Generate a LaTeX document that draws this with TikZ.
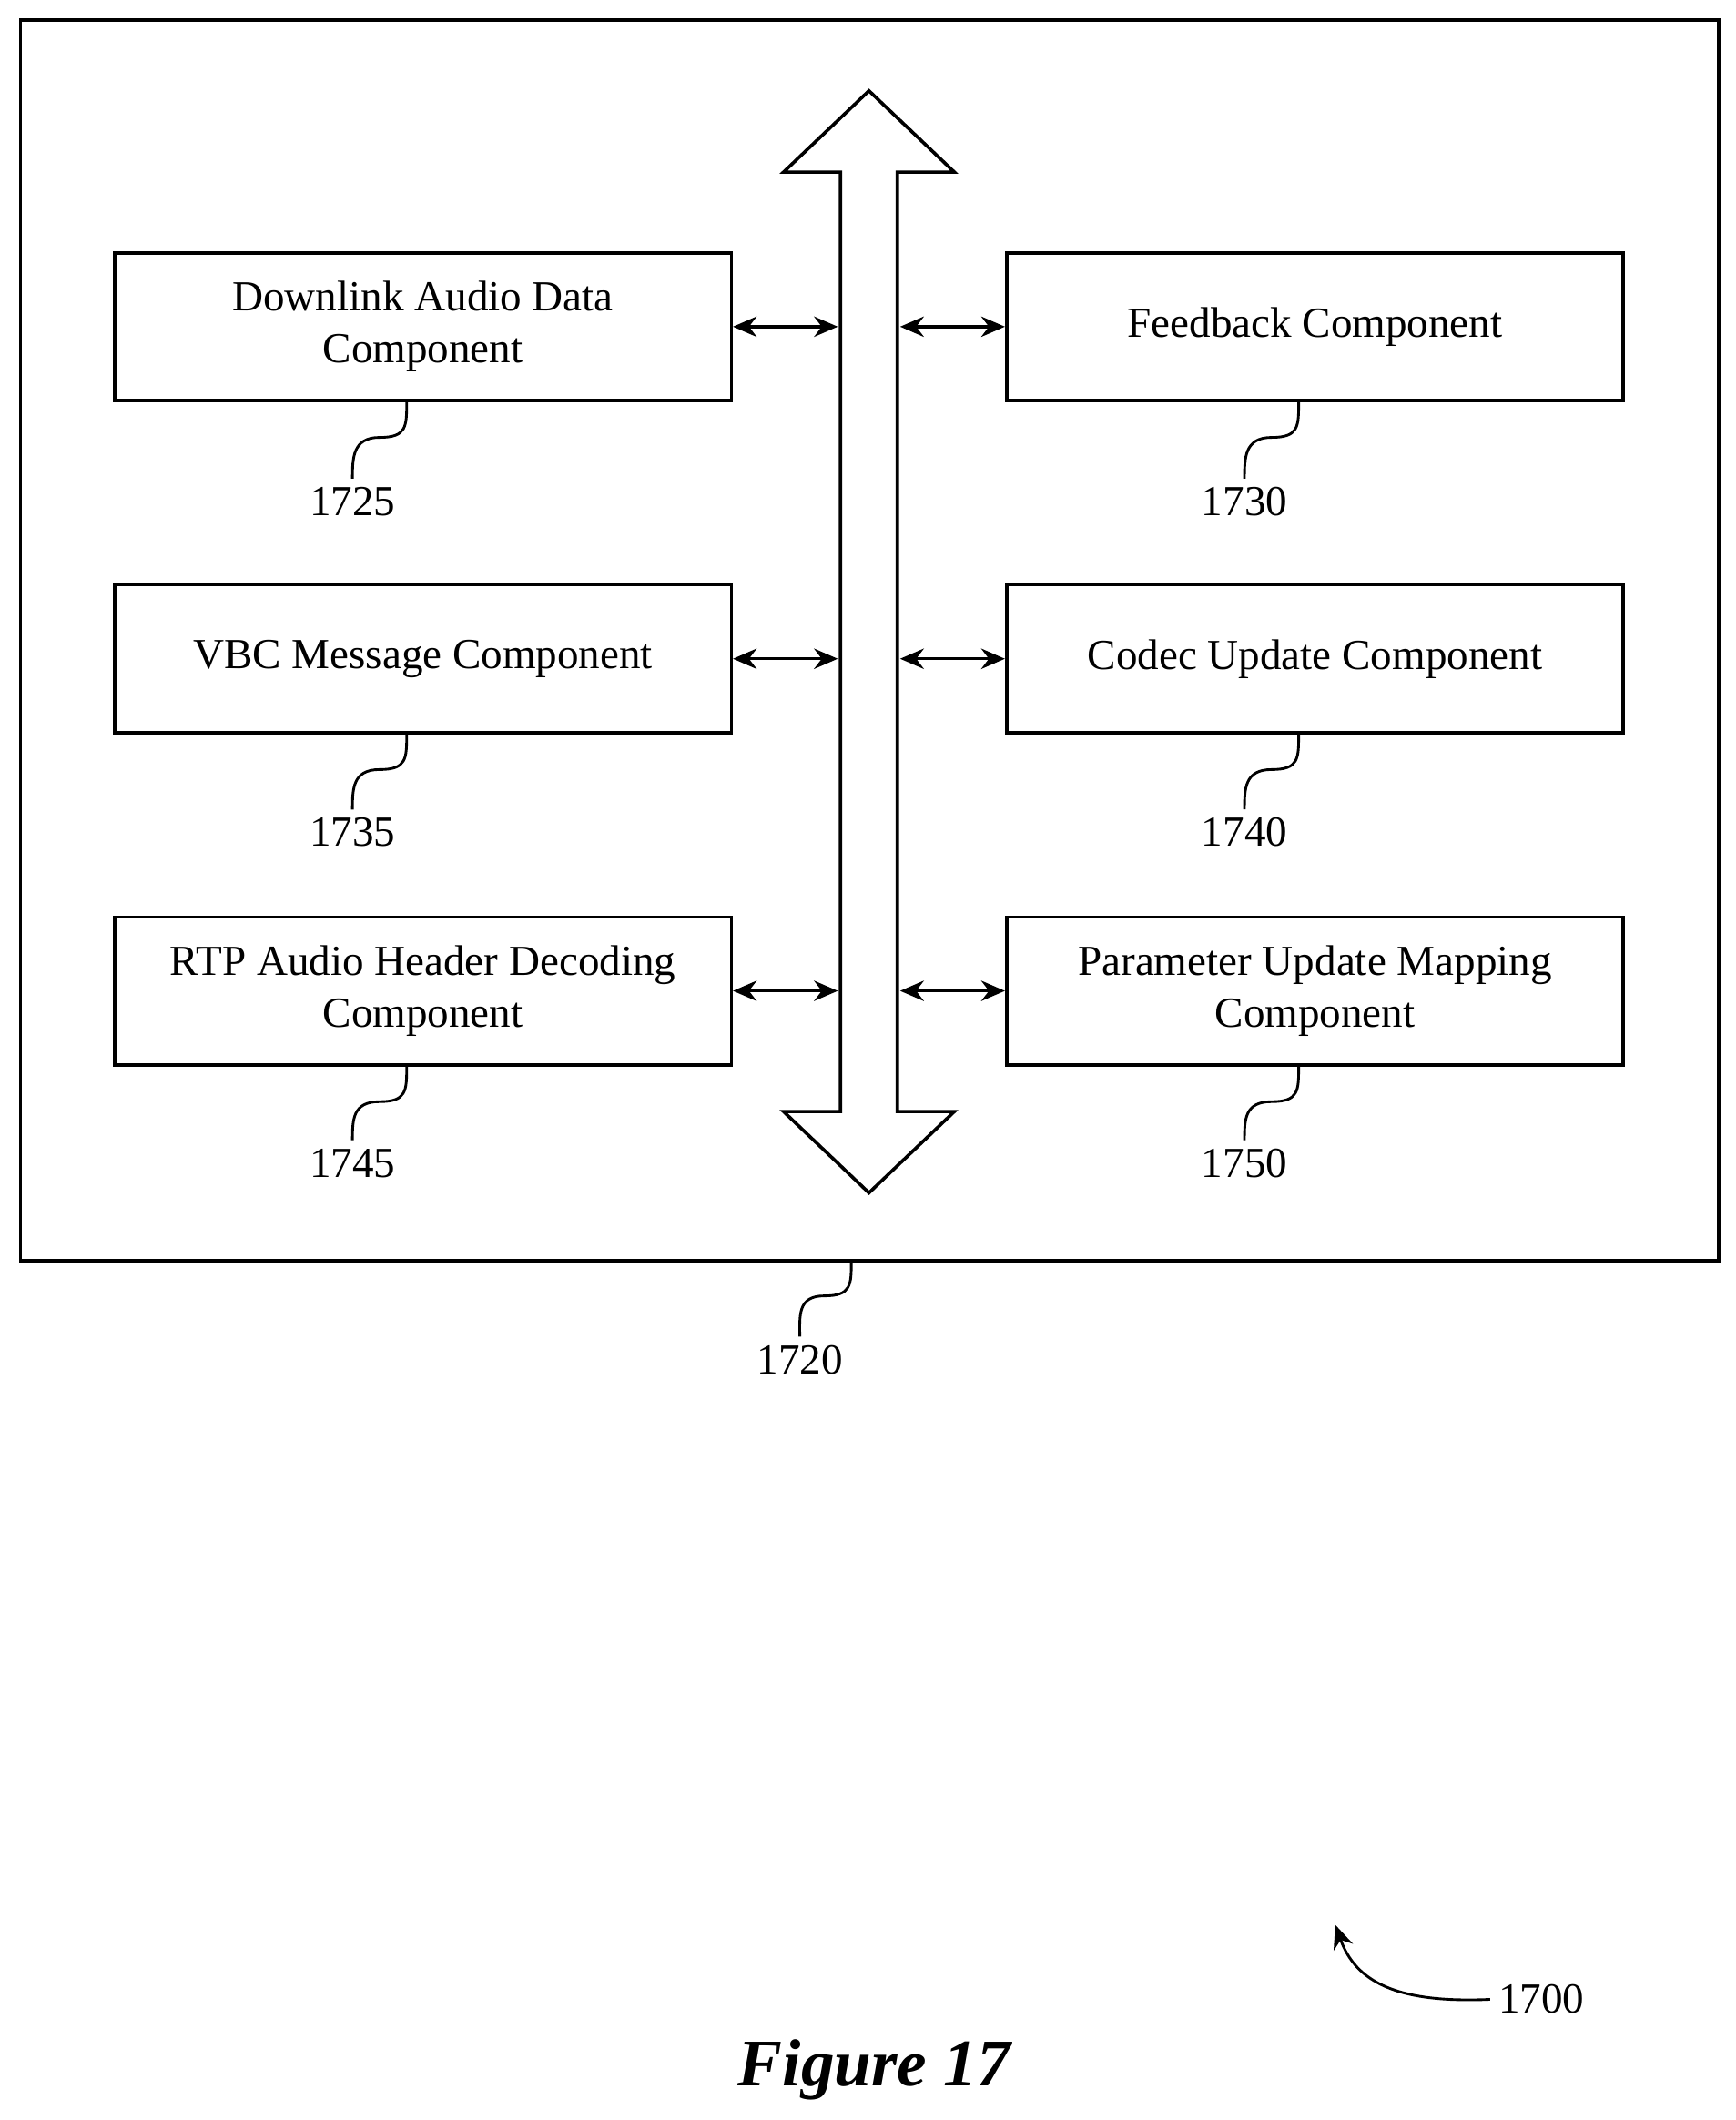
\documentclass[tikz,border=0pt]{standalone}
\usepackage{fontspec}
\setmainfont{Liberation Serif}
\usetikzlibrary{positioning,arrows.meta}

\begin{document}
\begin{tikzpicture}[x=0.02cm, y=-0.02cm,
    comp/.style={draw, line width=1.4pt, minimum width=9.1cm, minimum height=2.18cm, align=center, font=\fontsize{18}{22}\selectfont, inner sep=0pt},
    ref/.style={font=\fontsize{18}{20}\selectfont},
    link/.style={{Stealth[length=3.5mm, width=3mm]}-{Stealth[length=3.5mm, width=3mm]}, line width=1.3pt},
    lead/.style={line width=1.1pt}
]
\useasboundingbox (0,0) rectangle (1280,1564);

% outer box
\draw[line width=1.4pt] (15,15) rectangle (1268,930);
\coordinate (boxb) at (628,930);

% bus arrow
\draw[line width=1.4pt, fill=white] (641,67) -- (704,127) -- (662,127) -- (662,820) -- (704,820)
  -- (641,880) -- (578,820) -- (620,820) -- (620,127) -- (578,127) -- cycle;
\coordinate (busl1) at (618,241);
\coordinate (busr1) at (664,241);
\coordinate (busl2) at (618,486);
\coordinate (busr2) at (664,486);
\coordinate (busl3) at (618,731);
\coordinate (busr3) at (664,731);

% components
\node[comp] (down) at (312,241) {Downlink Audio Data\\Component};
\node[comp] (feed) at (970,241) {Feedback Component};
\node[comp] (vbc) at (312,486) {VBC Message Component};
\node[comp] (codec) at (970,486) {Codec Update Component};
\node[comp] (rtp) at (312,731) {RTP Audio Header Decoding\\Component};
\node[comp] (param) at (970,731) {Parameter Update Mapping\\Component};

% links to bus
\draw[link] (down.east) -- (busl1);
\draw[link] (busr1) -- (feed.west);
\draw[link] (vbc.east) -- (busl2);
\draw[link] (busr2) -- (codec.west);
\draw[link] (rtp.east) -- (busl3);
\draw[link] (busr3) -- (param.west);

% reference numerals
\node[ref] (n1725) at (260,370) {1725};
\node[ref] (n1730) at (918,370) {1730};
\node[ref] (n1735) at (260,614) {1735};
\node[ref] (n1740) at (918,614) {1740};
\node[ref] (n1745) at (260,858) {1745};
\node[ref] (n1750) at (918,858) {1750};
\node[ref] (n1720) at (590,1003) {1720};
\node[ref] (n1700) at (1137,1475) {1700};

\foreach \b/\n in {down/n1725, feed/n1730, vbc/n1735, codec/n1740, rtp/n1745, param/n1750}
  \draw[lead] ([xshift=-0.24cm]\b.south) .. controls +(0,18) and +(20,0) .. ++(-20,26)
     .. controls +(-20,0) and +(0,-15) .. (\n.north);
\draw[lead] (boxb) .. controls +(0,18) and +(20,0) .. ++(-20,26)
     .. controls +(-20,0) and +(0,-15) .. (n1720.north);

\draw[lead, -{Stealth[length=3.5mm, width=3mm]}] (n1700.west) .. controls (1030,1478) and (1000,1462) .. (985,1420);

\node[font=\fontsize{28}{32}\selectfont\bfseries\itshape] (fig) at (645,1527) {Figure 17};
\end{tikzpicture}
\end{document}
